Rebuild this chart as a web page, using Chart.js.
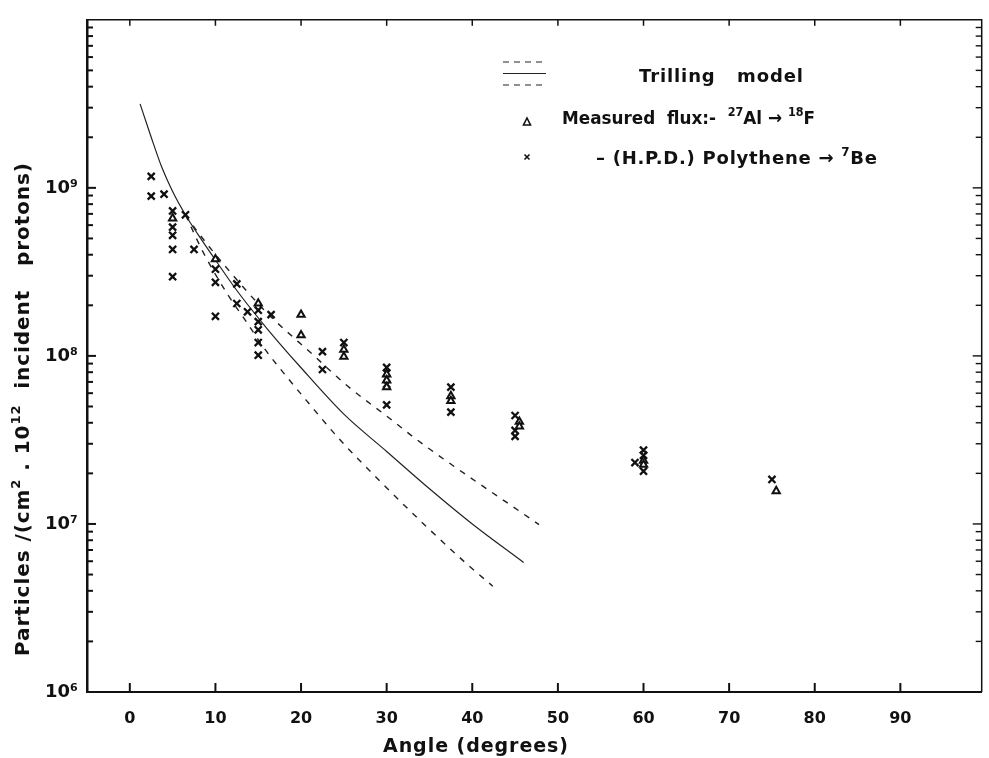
<!DOCTYPE html>
<html lang="en">
<head>
    <meta charset="UTF-8">
    <title>Trilling model</title>
    <style>
        body{ margin:0; background-color:#fff; }
    </style>
</head>
<body>
    <canvas id="grafico" width="989" height="758"></canvas>

    <script src="https://cdn.jsdelivr.net/npm/chart.js"></script>

    <script>
        // Trilling model (angle in degrees, particles per cm2 per 1e12 protons)
        const modelAngle = [1.2, 2.5, 3.75, 5, 6.5, 8, 10, 12.5, 16, 20, 25, 30, 35, 40, 46]
        const modelFlux  = [3.16e9, 2.0e9, 1.32e9, 9.5e8, 6.9e8, 5.25e8, 3.72e8, 2.45e8, 1.46e8, 8.5e7, 4.5e7, 2.7e7, 1.62e7, 1.0e7, 5.9e6]
        const upperAngle = [6.5, 7.6, 11.1, 15.9, 21.35, 25.4, 30.4, 33.5, 47.8]
        const upperFlux  = [6.9e8, 5.75e8, 3.44e8, 1.83e8, 1.02e8, 6.64e7, 4.23e7, 3.18e7, 9.9e6]
        const lowerAngle = [6.5, 8.6, 11.5, 13.6, 15.7, 18.1, 20.8, 24.4, 29.3, 34.5, 39.3, 42.4]
        const lowerFlux  = [6.9e8, 4.11e8, 2.29e8, 1.6e8, 1.11e8, 7.76e7, 5.3e7, 3.23e7, 1.78e7, 9.8e6, 5.82e6, 4.26e6]

        // measured flux, 27Al -> 18F (triangles)
        const alAngle = [5, 10, 15, 20, 20, 25, 25, 30, 30, 30, 37.5, 37.5, 45.5, 45.5, 60, 60, 75.5]
        const alFlux  = [6.59e8, 3.76e8, 2.05e8, 1.76e8, 1.33e8, 1.09e8, 9.9e7, 7.77e7, 7.16e7, 6.52e7, 5.77e7, 5.39e7, 4.06e7, 3.8e7, 2.38e7, 2.25e7, 1.57e7]

        // (H.P.D.) polythene -> 7Be (crosses)
        const beAngle = [2.5, 2.5, 4, 5, 5, 5, 5, 5, 6.5, 7.5, 10, 10, 10, 12.5, 12.5, 13.75, 15, 15, 15, 15, 15, 16.5, 22.5, 22.5, 25, 30, 30, 30, 30, 37.5, 37.5, 45, 45, 45, 59, 60, 60, 60, 75]
        const beFlux  = [1.17e9, 8.93e8, 9.17e8, 7.29e8, 5.84e8, 5.22e8, 4.3e8, 2.96e8, 6.91e8, 4.3e8, 3.28e8, 2.74e8, 1.72e8, 2.68e8, 2.05e8, 1.83e8, 1.87e8, 1.6e8, 1.43e8, 1.2e8, 1.01e8, 1.76e8, 1.06e8, 8.3e7, 1.2e8, 8.54e7, 7.9e7, 6.79e7, 5.11e7, 6.52e7, 4.63e7, 4.42e7, 3.6e7, 3.32e7, 2.32e7, 2.75e7, 2.56e7, 2.06e7, 1.84e7]

        const angleTicks = [0, 10, 20, 30, 40, 50, 60, 70, 80, 90]
        const fluxTicks  = [1e6, 1e7, 1e8, 1e9]
        const fluxTickLabels = ['10⁶', '10⁷', '10⁸', '10⁹']

        const tinta = '#111'
        const fuente = '"DejaVu Sans", sans-serif'

        const puntos = (xs, ys) => xs.map((v, i) => ({x: v, y: ys[i]}))

        // texto con superindices, ajustado a un ancho (espaciado o estrechado)
        function textoRico(ctx, segs, x, y, size, ancho) {
            const f = s => `bold ${s.sup ? Math.round(size * 0.65) : size}px ${fuente}`
            ctx.letterSpacing = '0px'
            let natural = 0, n = 0
            segs.forEach(s => { ctx.font = f(s); natural += ctx.measureText(s.t).width; n += s.t.length })
            let extra = 0, esc = 1
            if (natural < ancho) extra = (ancho - natural) / Math.max(n - 1, 1)
            else esc = ancho / natural
            ctx.save()
            ctx.translate(x, y)
            ctx.scale(esc, 1)
            let cx = 0
            segs.forEach(s => {
                ctx.font = f(s)
                ctx.letterSpacing = '0px'
                const w = ctx.measureText(s.t).width
                ctx.letterSpacing = extra + 'px'
                ctx.fillText(s.t, cx, s.sup ? -size * 0.45 : 0)
                cx += w + extra * s.t.length
            })
            ctx.letterSpacing = '0px'
            ctx.restore()
        }

        const marco = {
            id: 'marco',
            afterDraw(chart) {
                const {ctx, chartArea: a, scales: {x, y}} = chart
                ctx.save()
                ctx.strokeStyle = tinta
                ctx.fillStyle = tinta
                ctx.lineCap = 'butt'

                // top and right edges
                ctx.lineWidth = 1.5
                ctx.beginPath()
                ctx.moveTo(a.left, a.top); ctx.lineTo(a.right, a.top); ctx.lineTo(a.right, a.bottom)
                ctx.stroke()

                // inside ticks on the log axes
                for (let d = 6; d <= 9; d++) {
                    for (let m = 1; m <= 9; m++) {
                        const v = m * Math.pow(10, d)
                        if (v === 1e6) continue
                        const py = y.getPixelForValue(v)
                        const len = m === 1 ? 9 : 6
                        ctx.lineWidth = 2
                        ctx.beginPath(); ctx.moveTo(a.left, py); ctx.lineTo(a.left + len, py); ctx.stroke()
                        ctx.lineWidth = 1.4
                        ctx.beginPath(); ctx.moveTo(a.right, py); ctx.lineTo(a.right - len, py); ctx.stroke()
                    }
                }
                // inside ticks on the angle axes
                angleTicks.forEach(v => {
                    const px = x.getPixelForValue(v)
                    ctx.lineWidth = 2
                    ctx.beginPath(); ctx.moveTo(px, a.bottom); ctx.lineTo(px, a.bottom - 9); ctx.stroke()
                    ctx.lineWidth = 1.5
                    ctx.beginPath(); ctx.moveTo(px, a.top); ctx.lineTo(px, a.top + 6); ctx.stroke()
                })

                // axis titles
                ctx.textBaseline = 'alphabetic'
                textoRico(ctx, [{t: 'Angle (degrees)'}], 383, 752, 19, 185)
                ctx.save()
                ctx.translate(29, 656)
                ctx.rotate(-Math.PI / 2)
                textoRico(ctx, [
                    {t: 'Particles /(cm'}, {t: '2', sup: true}, {t: ' . 10'}, {t: '12', sup: true},
                    {t: '  incident   protons)'}
                ], 0, 0, 20, 493)
                ctx.restore()

                // legend
                ctx.lineWidth = 1.2
                ctx.strokeStyle = '#222'
                ctx.setLineDash([6, 5])
                ctx.beginPath(); ctx.moveTo(503, 62); ctx.lineTo(546, 62); ctx.stroke()
                ctx.beginPath(); ctx.moveTo(503, 85); ctx.lineTo(546, 85); ctx.stroke()
                ctx.setLineDash([])
                ctx.beginPath(); ctx.moveTo(503, 73.5); ctx.lineTo(546, 73.5); ctx.stroke()
                ctx.strokeStyle = tinta

                textoRico(ctx, [{t: 'Trilling   model'}], 639, 82, 18, 164)
                textoRico(ctx, [
                    {t: 'Measured  flux:-  '}, {t: '27', sup: true}, {t: 'Al → '}, {t: '18', sup: true}, {t: 'F'}
                ], 562, 124, 18, 253)
                textoRico(ctx, [
                    {t: '– (H.P.D.) Polythene → '}, {t: '7', sup: true}, {t: 'Be'}
                ], 596, 164, 18, 281)

                // legend markers
                ctx.lineWidth = 1.6
                ctx.beginPath(); ctx.moveTo(527, 118); ctx.lineTo(530.5, 125); ctx.lineTo(523.5, 125); ctx.closePath(); ctx.stroke()
                ctx.beginPath(); ctx.moveTo(524.5, 154.5); ctx.lineTo(529.5, 159.5); ctx.moveTo(529.5, 154.5); ctx.lineTo(524.5, 159.5); ctx.stroke()
                ctx.restore()
            }
        }

        const grafico = new Chart(document.querySelector('#grafico'), {
            type: 'scatter',
            data: {
                datasets: [
                    {
                        label: 'Measured flux 27Al -> 18F',
                        data: puntos(alAngle, alFlux),
                        pointStyle: 'triangle', pointRadius: 4.2, borderWidth: 2,
                        borderColor: tinta, backgroundColor: '#fff'
                    },
                    {
                        label: '(H.P.D.) Polythene -> 7Be',
                        data: puntos(beAngle, beFlux),
                        pointStyle: 'crossRot', pointRadius: 5, borderWidth: 2.3,
                        borderColor: tinta, backgroundColor: tinta
                    },
                    {
                        label: 'Trilling model',
                        data: puntos(modelAngle, modelFlux),
                        showLine: true, pointRadius: 0, borderWidth: 1.2,
                        borderColor: '#222', cubicInterpolationMode: 'monotone'
                    },
                    {
                        label: 'Trilling model upper',
                        data: puntos(upperAngle, upperFlux),
                        showLine: true, pointRadius: 0, borderWidth: 1.4, borderDash: [6, 7],
                        borderColor: '#222', cubicInterpolationMode: 'monotone'
                    },
                    {
                        label: 'Trilling model lower',
                        data: puntos(lowerAngle, lowerFlux),
                        showLine: true, pointRadius: 0, borderWidth: 1.4, borderDash: [6, 7],
                        borderColor: '#222', cubicInterpolationMode: 'monotone'
                    }
                ]
            },
            options: {
                responsive: false,
                animation: false,
                layout: { padding: { top: 10, right: 2, left: 0, bottom: 0 } },
                plugins: { legend: { display: false }, tooltip: { enabled: false } },
                scales: {
                    x: {
                        type: 'linear', min: -5, max: 99.5,
                        afterBuildTicks: s => { s.ticks = angleTicks.map(v => ({value: v})) },
                        afterFit: s => { s.height = 66 },
                        grid: { display: false, drawTicks: false },
                        border: { display: true, color: tinta, width: 2 },
                        ticks: { padding: 17, color: tinta, maxRotation: 0, font: { family: fuente, size: 16, weight: 'bold' } }
                    },
                    y: {
                        type: 'logarithmic', min: 1e6, max: 1e10,
                        afterBuildTicks: s => { s.ticks = fluxTicks.map(v => ({value: v})) },
                        afterFit: s => { s.width = 87 },
                        grid: { display: false, drawTicks: false },
                        border: { display: true, color: tinta, width: 2.5 },
                        ticks: {
                            padding: 9, color: tinta, font: { family: fuente, size: 18, weight: 'bold' },
                            callback: v => fluxTickLabels[fluxTicks.indexOf(v)] || ''
                        }
                    }
                }
            },
            plugins: [marco]
        })
    </script>
</body>
</html>
